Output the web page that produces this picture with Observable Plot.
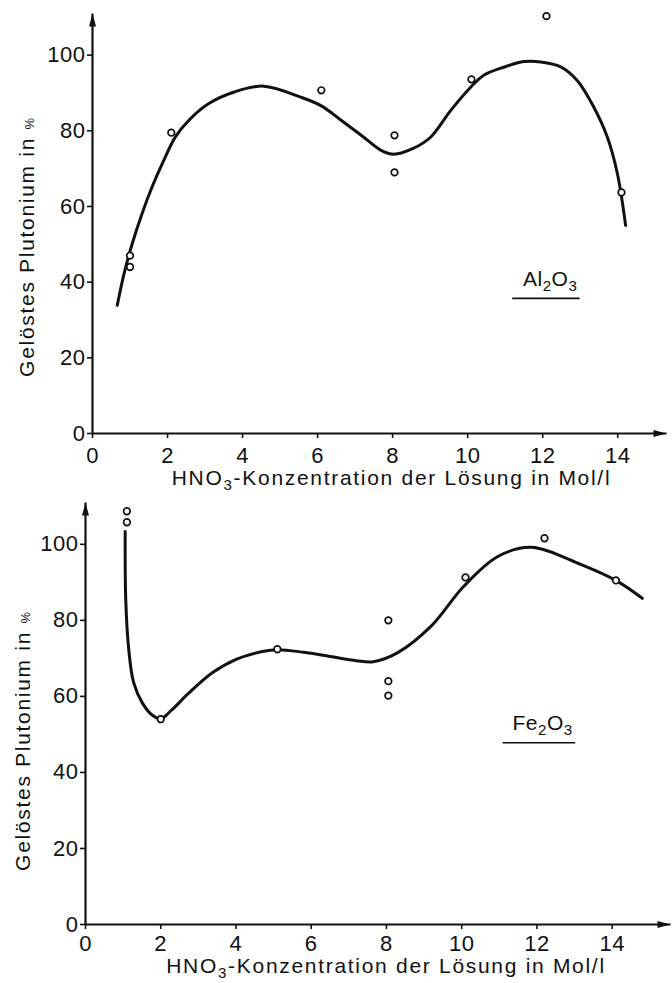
<!DOCTYPE html>
<html>
<head>
<meta charset="utf-8">
<script src="https://cdn.jsdelivr.net/npm/d3@7"></script>
<script src="https://cdn.jsdelivr.net/npm/@observablehq/plot@0.6"></script>
<style>
  body { margin: 0; background: #fff; }
  #chart svg { display: block; }
</style>
</head>
<body>
<div id="chart"></div>
<script>
// ---------- data ----------
const xTicks = [0, 2, 4, 6, 8, 10, 12, 14];
const yTicks = [0, 20, 40, 60, 80, 100];
const xLabel = "HNO_3-Konzentration der Lösung in Mol/l";
const yLabel = "Gelöstes Plutonium in ^%";

// Al2O3 (top panel)
const alName = "Al_2O_3";
const alPointX = [1, 1, 2.1, 6.1, 8.05, 8.05, 10.1, 12.1, 14.1];
const alPointY = [47, 44, 79.5, 90.7, 78.8, 69, 93.6, 110.3, 63.7];
const alCurveX = [0.66, 0.84, 1.06, 1.32, 1.59, 1.86, 2.21, 2.57, 3.1, 3.76, 4.56, 5.55, 6.1, 6.6, 7.23, 7.68, 8.03, 8.56, 9.01, 9.55, 10.08, 10.43, 10.96, 11.5, 11.95, 12.48, 12.92, 13.36, 13.72, 13.99, 14.21];
const alCurveY = [33.9, 42.2, 50.2, 58.1, 65.2, 71.3, 78.4, 82.8, 87.2, 90.2, 91.8, 88.9, 86.6, 83, 78.3, 74.9, 73.8, 75.4, 78.3, 85.4, 91.5, 94.7, 96.8, 98.3, 98.2, 96.9, 93.3, 86.3, 78.4, 68.7, 55];
const alLabelAt = [12.2, 40.7];
const alUnderline = [11.2, 13.0, 35.7];
const alAxisEnd = [15.3, 111];

// Fe2O3 (bottom panel)
const feName = "Fe_2O_3";
const fePointX = [1.1, 1.1, 2.0, 5.1, 8.05, 8.05, 8.05, 10.1, 12.2, 14.1];
const fePointY = [108.7, 105.8, 54, 72.4, 80, 64, 60.2, 91.3, 101.6, 90.5];
const feCurveX = [1.055, 1.07, 1.15, 1.28, 1.51, 1.77, 2.0, 2.3, 2.75, 3.37, 3.99, 4.7, 5.1, 5.8, 6.5, 7.2, 7.65, 8.3, 9.18, 10.05, 10.96, 11.84, 13.16, 14.15, 14.8];
const feCurveY = [103.4, 85.5, 72.3, 63.6, 58.3, 55.1, 54.1, 56.5, 60.9, 66.2, 69.7, 71.8, 72.3, 71.6, 70.5, 69.4, 69.1, 71.5, 78.4, 88.9, 96.8, 99.2, 94.7, 90.2, 85.8];
const feLabelAt = [12.15, 53];
const feUnderline = [11.1, 13.03, 47.8];
const feAxisEnd = [15.55, 111];

// ---------- drawing ----------
const FONT = '"Liberation Sans", Arial, Helvetica, sans-serif';
const NS = "http://www.w3.org/2000/svg";

// narrow filled arrowheads, tip at the dot position
const headUp = {draw(ctx) { ctx.moveTo(0, 0); ctx.lineTo(-3.5, 13); ctx.lineTo(3.5, 13); ctx.closePath(); }};
const headRight = {draw(ctx) { ctx.moveTo(0, 0); ctx.lineTo(-13, -3.5); ctx.lineTo(-13, 3.5); ctx.closePath(); }};

function richText(svg) {
  svg.querySelectorAll("text").forEach(t => {
    const s = t.textContent;
    if (/Konzentration|Plutonium/.test(s)) t.style.letterSpacing = "1.7px";
    if (!/[_^]/.test(s)) return;
    const parts = s.split(/(_\d|\^%)/);
    t.textContent = "";
    let cur = 0;
    for (const p of parts) {
      if (!p) continue;
      const ts = document.createElementNS(NS, "tspan");
      if (p[0] === "_") {
        ts.textContent = p.slice(1);
        ts.setAttribute("font-size", "72%");
        ts.setAttribute("dy", 5 - cur); cur = 5;
      } else if (p[0] === "^") {
        ts.textContent = p.slice(1);
        ts.setAttribute("font-size", "62%");
        if (cur) ts.setAttribute("dy", -cur); cur = 0;
      } else {
        ts.textContent = p;
        if (cur) ts.setAttribute("dy", -cur); cur = 0;
      }
      t.appendChild(ts);
    }
  });
}

function panel(c) {
  const pts = c.px.map((x, i) => ({x, y: c.py[i]}));
  const crv = c.cx.map((x, i) => ({x, y: c.cy[i]}));
  const xAxis = [{x1: 0, y1: 0, x2: c.end[0], y2: 0}];
  const yAxis = [{x1: 0, y1: 0, x2: 0, y2: c.end[1]}];
  const svg = Plot.plot({
    width: 672,
    height: c.height,
    marginLeft: c.ml, marginRight: c.mr, marginTop: c.mt, marginBottom: c.mb,
    x: {domain: [0, c.end[0]]},
    y: {domain: [0, c.end[1]]},
    style: {fontFamily: FONT, fontSize: "22px", letterSpacing: "0.5px", background: "#fff", color: "#111", overflow: "visible"},
    marks: [
      Plot.axisX({ticks: xTicks, tickSize: 5, tickPadding: c.tp, label: null, fontSize: 22, strokeWidth: 1.6}),
      Plot.axisY({ticks: yTicks, tickSize: 5, tickPadding: 2, label: null, fontSize: 22, strokeWidth: 1.6}),
      Plot.link(xAxis.concat(yAxis), {x1: "x1", y1: "y1", x2: "x2", y2: "y2", strokeWidth: 2.2, stroke: "#111"}),
      Plot.dot(xAxis, {x: "x2", y: "y2", symbol: headRight, fill: "#111", stroke: "none"}),
      Plot.dot(yAxis, {x: "x2", y: "y2", symbol: headUp, fill: "#111", stroke: "none"}),
      Plot.line(crv, {x: "x", y: "y", curve: "catmull-rom", strokeWidth: 3, stroke: "#111"}),
      Plot.dot(pts, {x: "x", y: "y", r: 3.3, stroke: "#111", strokeWidth: 1.7, fill: "#fff"}),
      Plot.text([{t: c.name, x: c.lab[0], y: c.lab[1]}], {x: "x", y: "y", text: "t", fontSize: 21}),
      Plot.ruleY([{x1: c.ul[0], x2: c.ul[1], y: c.ul[2]}], {x1: "x1", x2: "x2", y: "y", strokeWidth: 1.6, stroke: "#111"}),
      Plot.text([xLabel], {text: d => d, frameAnchor: "bottom", textAnchor: "middle", lineAnchor: "middle", dx: c.xlDx, dy: c.xlDy, fontSize: 21}),
      Plot.text([yLabel], {text: d => d, frameAnchor: "left", textAnchor: "middle", rotate: -90, lineAnchor: "middle", dx: c.ylDx, dy: c.ylDy, fontSize: 21})
    ]
  });
  richText(svg);
  return svg;
}

const chart = document.getElementById("chart");
chart.appendChild(panel({
  name: alName, px: alPointX, py: alPointY, cx: alCurveX, cy: alCurveY,
  lab: alLabelAt, ul: alUnderline, end: alAxisEnd,
  height: 480, ml: 92, mr: 6, mt: 13, mb: 47, tp: 9,
  xlDx: 12, xlDy: 45, ylDx: -65, ylDy: 23
}));
chart.appendChild(panel({
  name: feName, px: fePointX, py: fePointY, cx: feCurveX, cy: feCurveY,
  lab: feLabelAt, ul: feUnderline, end: feAxisEnd,
  height: 503, ml: 85, mr: 2, mt: 22, mb: 59, tp: 6,
  xlDx: 8, xlDy: 42, ylDx: -62, ylDy: 27
}));
</script>
</body>
</html>
